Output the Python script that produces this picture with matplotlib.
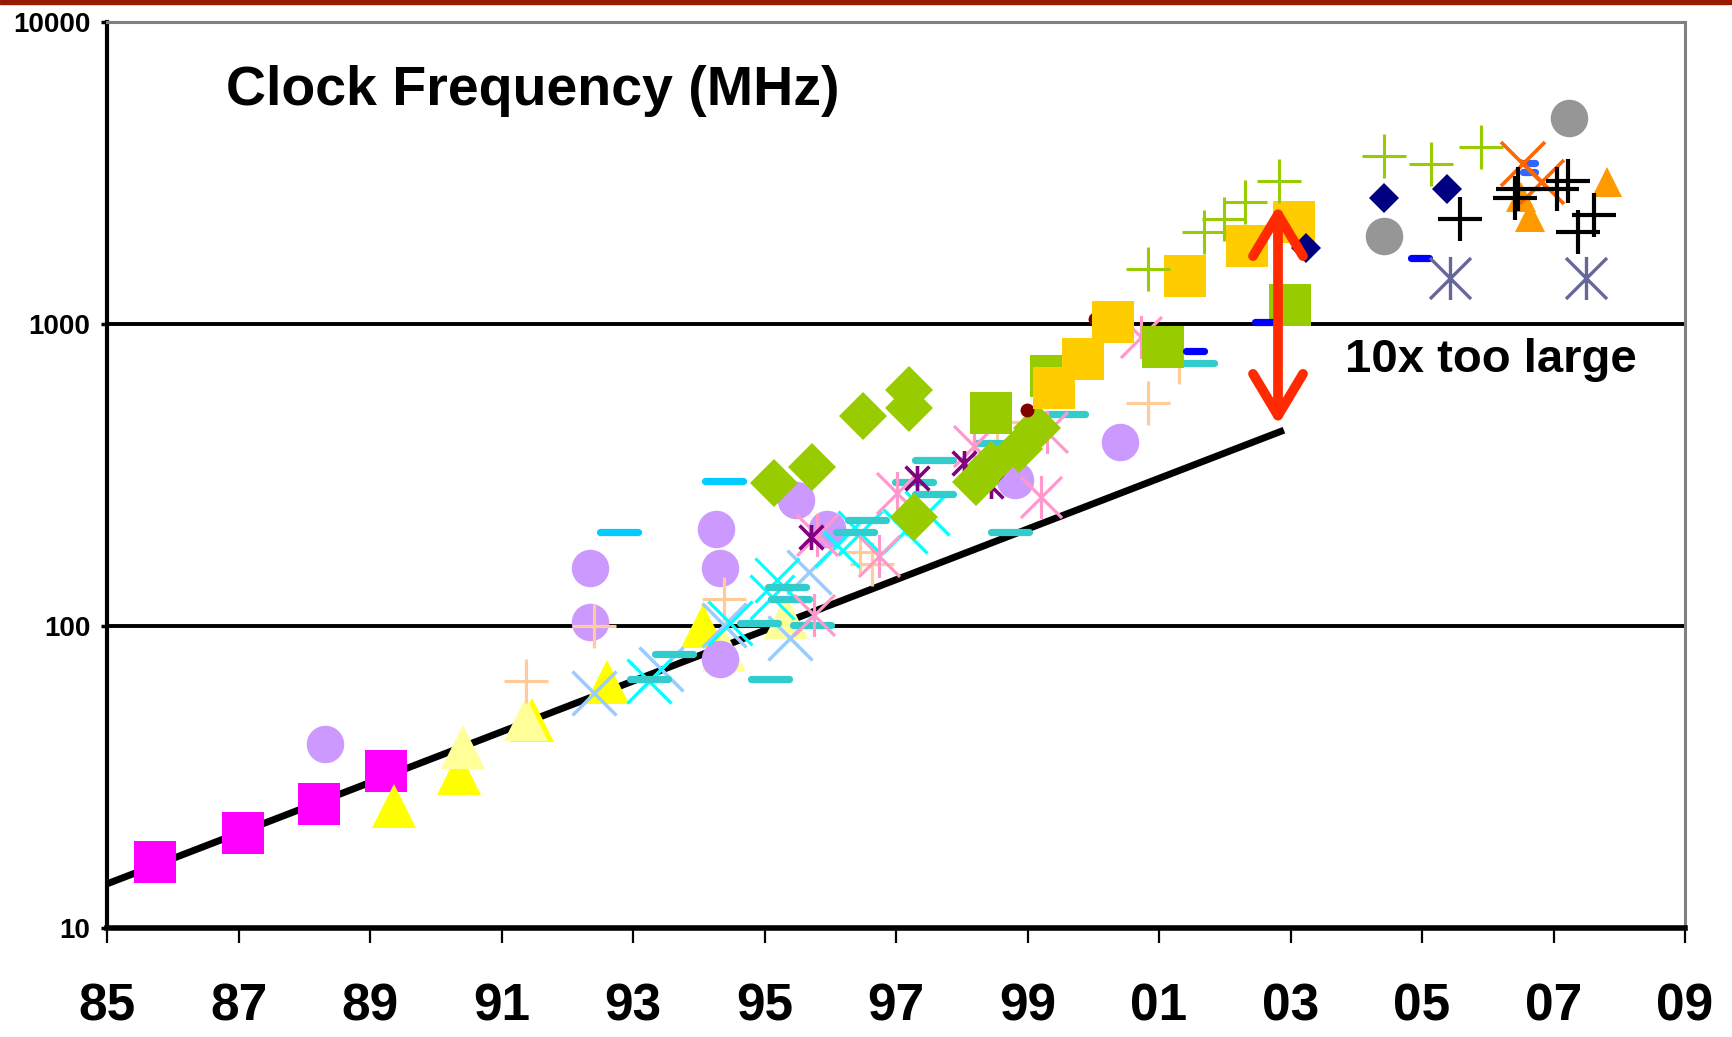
import matplotlib
matplotlib.use("Agg")
import matplotlib.pyplot as plt
from matplotlib.path import Path
from matplotlib.markers import MarkerStyle
from matplotlib.patches import FancyArrowPatch, Rectangle

plt.rcParams['font.family'] = ['Liberation Sans', 'DejaVu Sans']

# ---------------- data (year, MHz) ----------------
magenta_sq_x = [1985.73, 1987.07, 1988.22, 1989.24]
magenta_sq_y = [16.5, 20.6, 25.7, 33.2]

yellow_tri_x = [1989.36, 1990.36, 1991.46, 1992.60, 1994.07]
yellow_tri_y = [25.4, 32.6, 49.0, 65.3, 100]

paleyel_tri_x = [1990.42, 1991.38, 1994.38, 1995.32]
paleyel_tri_y = [39.6, 49.1, 83.2, 107]

purple_circ_x = [1988.32, 1992.35, 1992.35, 1994.26, 1994.33, 1994.33, 1995.48, 1995.95, 1998.81, 2000.40]
purple_circ_y = [40.8, 156, 103, 209, 156, 77.6, 261, 209, 304, 407]

peach_plus_x = [1991.38, 1992.40, 1994.39, 1996.46, 1996.63, 1998.54, 2000.84, 2001.30]
peach_plus_y = [65.9, 100, 123, 176, 161, 474, 546, 750]

lblue_x_x = [1992.41, 1993.43, 1994.38, 1995.39, 1995.67]
lblue_x_y = [60.1, 72.3, 100.5, 91, 151]

cyan_x_x = [1993.24, 1994.48, 1995.11, 1995.19, 1996.10, 1996.46, 1997.14, 1997.47]
cyan_x_y = [65.9, 102, 125, 142, 185, 203, 207, 236]

teal_dash_x = [1993.24, 1993.62, 1994.91, 1995.09, 1995.34, 1995.39, 1995.73, 1996.37, 1996.56,
               1997.27, 1997.58, 1997.58, 1998.50, 1998.74, 1999.58, 2001.55]
teal_dash_y = [67, 81, 102, 67, 135, 123, 101, 205, 225, 300, 274, 355, 405, 205, 503, 741]

cyan_dash_x = [1992.78, 1994.39]
cyan_dash_y = [205, 302]

pink_star_x = [1995.75, 1995.80, 1996.74, 1997.01, 1998.18, 1999.20, 1999.30, 2000.72]
pink_star_y = [109, 200, 170, 275, 393, 268, 440, 907]

purple_ast_x = [1995.70, 1997.32, 1998.03, 1998.45]
purple_ast_y = [197, 308, 346, 290]

green_dia_x = [1995.15, 1995.73, 1996.50, 1997.20, 1997.20, 1997.27, 1998.21, 1998.44, 1998.87, 1999.14]
green_dia_y = [297, 337, 496, 604, 526, 230, 300, 341, 387, 451]

darkred_circ_x = [1998.99, 2000.03]
darkred_circ_y = [519, 1037]

green_sq_x = [1998.44, 1999.35, 2001.06, 2002.99]
green_sq_y = [506, 673, 841, 1156]

gold_sq_x = [1999.41, 1999.85, 2000.30, 2001.39, 2002.34, 2003.05]
gold_sq_y = [612, 764, 1018, 1445, 1813, 2182]

blue_dash_x = [2001.54, 2002.59, 2004.97]
blue_dash_y = [813, 1013, 1651]

green_plus_x = [2000.84, 2001.68, 2001.99, 2002.31, 2002.83, 2004.42, 2005.13, 2005.89]
green_plus_y = [1518, 2022, 2228, 2542, 2977, 3610, 3388, 3848]

navy_dia_x = [2003.24, 2004.42, 2005.38]
navy_dia_y = [1782, 2620, 2800]

gray_circ_x = [2004.42, 2007.23]
gray_circ_y = [1961, 4800]

slate_star_x = [2005.43, 2007.49]
slate_star_y = [1416, 1416]

orange_tri_x = [2006.50, 2006.65, 2007.82]
orange_tri_y = [2640, 2266, 2962]

blue2_dash_x = [2006.62, 2006.62]
blue2_dash_y = [3420, 3195]

orange_x_x = [2006.53, 2006.83]
orange_x_y = [3388, 2962]

black_plus_x = [2005.58, 2006.41, 2006.46, 2007.05, 2007.22, 2007.37, 2007.62]
black_plus_y = [2228, 2608, 2793, 2793, 2985, 2022, 2297]

trend_x = [1985.0, 2002.90]
trend_y = [14.0, 445]

arrow_x = 2002.81
arrow_y = [463, 2478]

x_ticks = [1985, 1987, 1989, 1991, 1993, 1995, 1997, 1999, 2001, 2003, 2005, 2007, 2009]
x_labels = ['85', '87', '89', '91', '93', '95', '97', '99', '01', '03', '05', '07', '09']
y_ticks = [10, 100, 1000, 10000]
y_labels = ['10', '100', '1000', '10000']

# ---------------- figure ----------------
W, H = 1732, 1037
fig = plt.figure(figsize=(W / 100, H / 100), dpi=100)
fig.patch.set_facecolor('white')
ax = fig.add_axes([107 / W, 1 - 928 / H, (1685 - 107) / W, (928 - 22) / H])

# top dark red band
fig.add_artist(Rectangle((0, 1 - 4 / H), 1, 4 / H, transform=fig.transFigure,
                         color='#991A00', zorder=10))

ax.set_yscale('log')
ax.set_xlim(1985, 2009)
ax.set_ylim(10, 10000)

# grid lines at 100 and 1000
for gv in [100, 1000]:
    ax.axhline(gv, color='black', lw=2.8, zorder=1)

# trend line
ax.plot(trend_x, trend_y, color='black', lw=5.0, solid_capstyle='butt', zorder=2)

star_path = Path([(-1, -1), (1, 1), (-1, 1), (1, -1), (0, -1.05), (0, 1.05)],
                 [Path.MOVETO, Path.LINETO, Path.MOVETO, Path.LINETO, Path.MOVETO, Path.LINETO])
dash_round = MarkerStyle('_', capstyle='round')


def pts(x, y, marker, color, ms, mew=0, filled=True, z=3):
    if filled:
        ax.plot(x, y, linestyle='none', marker=marker, ms=ms, mfc=color, mec=color,
                mew=mew, zorder=z)
    else:
        ax.plot(x, y, linestyle='none', marker=marker, ms=ms, mfc='none', mec=color,
                mew=mew, zorder=z)


pts(magenta_sq_x, magenta_sq_y, 's', '#FF00FF', 30)
pts(yellow_tri_x, yellow_tri_y, '^', '#FFFF00', 32)
pts(paleyel_tri_x, paleyel_tri_y, '^', '#FFFF99', 32)
pts(purple_circ_x, purple_circ_y, 'o', '#CC99FF', 27)
pts(peach_plus_x, peach_plus_y, '+', '#FFCC99', 32, mew=2.3, filled=False)
pts(lblue_x_x, lblue_x_y, 'x', '#99CCFF', 32, mew=2.5, filled=False)
pts(cyan_x_x, cyan_x_y, 'x', '#00FFFF', 32, mew=2.3, filled=False)
pts(teal_dash_x, teal_dash_y, dash_round, '#33CCCC', 27, mew=5.2, filled=False)
pts(cyan_dash_x, cyan_dash_y, dash_round, '#00CCFF', 27, mew=5.2, filled=False)
pts(pink_star_x, pink_star_y, star_path, '#FF99CC', 31, mew=2.3, filled=False)
pts(purple_ast_x, purple_ast_y, star_path, '#800080', 18, mew=2.6, filled=False)
pts(green_dia_x, green_dia_y, 'D', '#99CC00', 24)
pts(darkred_circ_x, darkred_circ_y, 'o', '#800000', 10)
pts(green_sq_x, green_sq_y, 's', '#99CC00', 30)
pts(gold_sq_x, gold_sq_y, 's', '#FFCC00', 30)
pts(blue_dash_x, blue_dash_y, dash_round, '#0000FF', 13, mew=5.2, filled=False)
pts(green_plus_x, green_plus_y, '+', '#99CC00', 32, mew=2.2, filled=False)
pts(navy_dia_x, navy_dia_y, 'D', '#000080', 15)
pts(gray_circ_x, gray_circ_y, 'o', '#969696', 27)
pts(slate_star_x, slate_star_y, star_path, '#666699', 31, mew=2.4, filled=False)
pts(orange_tri_x, orange_tri_y, '^', '#FF9900', 21)
pts(blue2_dash_x, blue2_dash_y, dash_round, '#3366FF', 8, mew=5.2, filled=False)
pts(orange_x_x, orange_x_y, 'x', '#FF6600', 32, mew=2.6, filled=False)
pts(black_plus_x, black_plus_y, '+', 'black', 32, mew=3.0, filled=False)

# red double arrow
arr = FancyArrowPatch((arrow_x, arrow_y[0]), (arrow_x, arrow_y[1]),
                      arrowstyle='<->,head_length=30,head_width=18',
                      mutation_scale=1, color='#FF2A00', lw=7,
                      capstyle='round', joinstyle='round',
                      shrinkA=0, shrinkB=0, zorder=8)
ax.add_patch(arr)

# texts
ax.text(0.0754, 0.924, 'Clock Frequency (MHz)', transform=ax.transAxes,
        fontsize=40, fontweight='bold', ha='left', va='center', color='black')
ax.text(0.7845, 0.627, '10x too large', transform=ax.transAxes,
        fontsize=34, fontweight='bold', ha='left', va='center', color='black')

# axes styling
for s in ['left', 'bottom']:
    ax.spines[s].set_color('black')
ax.spines['left'].set_linewidth(3.0)
ax.spines['bottom'].set_linewidth(4.0)
for s in ['top', 'right']:
    ax.spines[s].set_color('#808080')
    ax.spines[s].set_linewidth(2.2)

ax.set_xticks(x_ticks)
ax.set_xticklabels(x_labels)
ax.set_yticks(y_ticks)
ax.set_yticklabels(y_labels)
ax.minorticks_off()
ax.tick_params(axis='x', direction='out', length=11, width=1.6, pad=28,
               labelsize=37, color='black')
ax.tick_params(axis='y', direction='out', length=4, width=2.5, pad=8,
               labelsize=20, color='black')
for lab in ax.get_xticklabels() + ax.get_yticklabels():
    lab.set_fontweight('bold')

fig.savefig('out.png', dpi=100, facecolor='white')
